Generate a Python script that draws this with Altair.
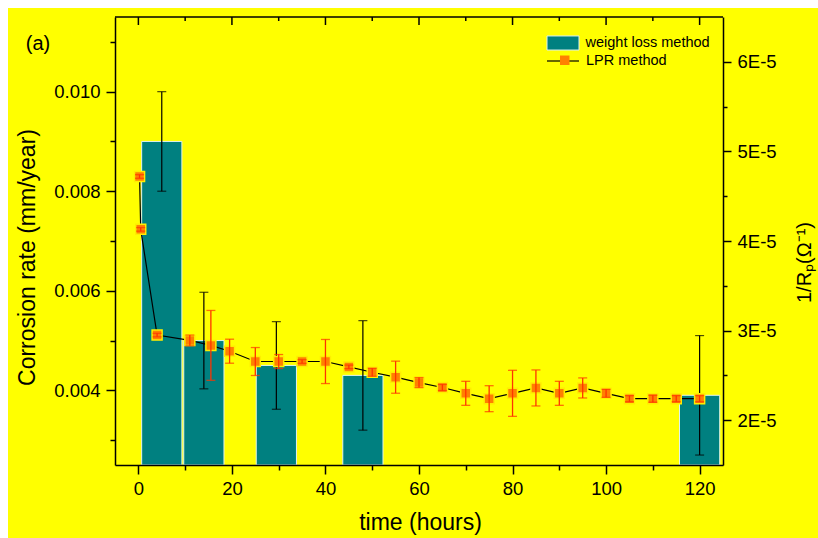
import altair as alt
import pandas as pd

# ---------------- data ----------------
# weight loss method (bars, left axis, mm/year)
bar_time = [5, 14, 29.5, 48, 120]
bar_rate = [0.0090, 0.0050, 0.0045, 0.0043, 0.0039]
bar_err = [0.0010, 0.00097, 0.00088, 0.0011, 0.0012]

# LPR method (right axis, 1/Rp in units of 1E-5 ohm^-1)
lpr_time = [0.25, 0.5, 4, 11, 15.5, 19.5, 25, 30, 35, 40, 45, 50, 55,
            60, 65, 70, 75, 80, 85, 90, 95, 100, 105, 110, 115, 120]
lpr_val = [4.72, 4.13, 2.95, 2.89, 2.835, 2.77, 2.655, 2.655, 2.655, 2.655,
           2.595, 2.535, 2.48, 2.42, 2.365, 2.30, 2.24, 2.30, 2.36, 2.30,
           2.36, 2.30, 2.24, 2.24, 2.24, 2.24]
lpr_err = [0.02, 0.02, 0.02, 0.06, 0.39, 0.134, 0.156, 0.078, 0.02, 0.246,
           0.02, 0.045, 0.179, 0.056, 0.034, 0.134, 0.145, 0.257, 0.201, 0.134,
           0.112, 0.045, 0.034, 0.039, 0.034, 0.034]

x_ticks = [0, 10, 20, 30, 40, 50, 60, 70, 80, 90, 100, 110, 120]
x_major = [0, 20, 40, 60, 80, 100, 120]
x_minor = [10, 30, 50, 70, 90, 110]
yl_ticks = [0.003, 0.004, 0.005, 0.006, 0.007, 0.008, 0.009, 0.010, 0.011]
yr_ticks = [2e-5, 2.5e-5, 3e-5, 3.5e-5, 4e-5, 4.5e-5, 5e-5, 5.5e-5, 6e-5]

bar_df = pd.DataFrame({"t": bar_time, "cr": bar_rate, "err": bar_err,
                       "m1": ["weight loss method"] * len(bar_time)})
lpr_df = pd.DataFrame({"t": lpr_time,
                       "r": [v * 1e-5 for v in lpr_val],
                       "e": [v * 1e-5 for v in lpr_err]})
lpr_df["m2"] = "LPR method"
lpr_df["m3"] = "LPR method "
top_major_df = pd.DataFrame({"v": x_major})
top_minor_df = pd.DataFrame({"v": x_minor})
one = pd.DataFrame({"a": [0]})

W, H = 608, 448
FONT = "Liberation Sans"
TEAL = "#008080"
ORANGE = "#FF8000"
ERR_RED = "#FF3300"
HALO = "#FFEE00"

# ---------------- scales / axes ----------------
xscale = alt.Scale(domain=[-5, 125], nice=False, zero=False)
xaxis = alt.Axis(
    title="time (hours)", values=x_ticks, zindex=1,
    labelExpr="datum.value % 20 == 0 ? datum.label : ''",
    tickSize={"condition": {"test": "datum.value % 20 == 0", "value": 9}, "value": 5},
    labelPadding=5, titleX=W / 2 + 1, titleY=57, titleBaseline="middle",
    titleFontSize=23,
)
ylscale = alt.Scale(domain=[0.0025, 0.0115], nice=False, zero=False)
ylaxis = alt.Axis(
    title="Corrosion rate (mm/year)", orient="left", values=yl_ticks, zindex=1,
    labelExpr="round(datum.value*1000) % 2 == 0 ? format(datum.value, '.3f') : ''",
    tickSize={"condition": {"test": "round(datum.value*1000) % 2 == 0", "value": 9}, "value": 5},
    labelPadding=6, titleAngle=270, titleX=-88, titleY=240,
    titleAlign="center", titleBaseline="middle", titleFontSize=23,
)
yrscale = alt.Scale(domain=[1.5e-5, 6.5e-5], nice=False, zero=False)
yraxis = alt.Axis(
    title="1/R\u209a(\u03a9\u207b\u00b9)", orient="right", values=yr_ticks, zindex=1,
    labelExpr="abs(datum.value*1e5 - round(datum.value*1e5)) < 0.01 ? format(round(datum.value*1e5), 'd') + 'E-5' : ''",
    tickSize={"condition": {"test": "abs(datum.value*1e5 - round(datum.value*1e5)) < 0.01", "value": 8}, "value": 4},
    labelPadding=6, titleAngle=270, titleX=81, titleY=245,
    titleAlign="center", titleBaseline="middle", titleFontSize=20,
)

# ---------------- decoration ----------------
bg = alt.Chart(one).mark_rect(color="#FFFF00").encode(
    x=alt.value(-107), x2=alt.value(W + 95), y=alt.value(-9), y2=alt.value(H + 73))
top_line = alt.Chart(one).mark_rule(color="black", strokeWidth=1.5).encode(
    x=alt.value(0), x2=alt.value(W), y=alt.value(0))
top_major = alt.Chart(top_major_df).mark_rule(color="black", strokeWidth=1.5).encode(
    x=alt.X("v:Q", scale=xscale, axis=xaxis), y=alt.value(0), y2=alt.value(8))
top_minor = alt.Chart(top_minor_df).mark_rule(color="black", strokeWidth=1.5).encode(
    x=alt.X("v:Q", scale=xscale, axis=xaxis), y=alt.value(0), y2=alt.value(4))
label_a = alt.Chart(one).mark_text(text="(a)", font=FONT, fontSize=20, color="black",
                                   align="center", baseline="middle").encode(
    x=alt.value(-77), y=alt.value(27))

# ---------------- bars (left axis) ----------------
bars = alt.Chart(bar_df).transform_calculate(
    t0="datum.t - 4.3", t1="datum.t + 4.3"
).mark_rect(stroke="#dff2ee", strokeWidth=1).encode(
    x=alt.X("t0:Q", scale=xscale, axis=xaxis), x2="t1:Q",
    y=alt.Y("cr:Q", scale=ylscale, axis=ylaxis), y2=alt.datum(0.0025),
    fill=alt.Fill("m1:N", scale=alt.Scale(domain=["weight loss method"], range=[TEAL]),
                  legend=alt.Legend(title=None, orient="none", legendX=431.5, legendY=9.5,
                                    symbolType="M-1,-0.44H1V0.44H-1Z", symbolSize=1024,
                                    symbolStrokeColor="#dff2ee", symbolStrokeWidth=1,
                                    labelFontSize=14.5, labelOffset=6, padding=0)),
)
bar_base = alt.Chart(bar_df).transform_calculate(
    lo="datum.cr - datum.err", hi="datum.cr + datum.err")
bar_rule = bar_base.mark_rule(color="black", strokeWidth=1.2).encode(
    x=alt.X("t:Q", scale=xscale, axis=xaxis),
    y=alt.Y("lo:Q", scale=ylscale, axis=ylaxis), y2="hi:Q")
bar_cap_hi = bar_base.mark_tick(orient="horizontal", color="black", size=9, thickness=1.2).encode(
    x=alt.X("t:Q", scale=xscale, axis=xaxis), y=alt.Y("hi:Q", scale=ylscale, axis=ylaxis))
bar_cap_lo = bar_base.mark_tick(orient="horizontal", color="black", size=9, thickness=1.2).encode(
    x=alt.X("t:Q", scale=xscale, axis=xaxis), y=alt.Y("lo:Q", scale=ylscale, axis=ylaxis))
left = alt.layer(bars, bar_rule, bar_cap_hi, bar_cap_lo)

# ---------------- LPR (right axis) ----------------
lpr_line = alt.Chart(lpr_df).mark_line(strokeWidth=1.2).encode(
    x=alt.X("t:Q", scale=xscale, axis=xaxis),
    y=alt.Y("r:Q", scale=yrscale, axis=yraxis),
    stroke=alt.Stroke("m2:N", scale=alt.Scale(domain=["LPR method"], range=["black"]),
                      legend=alt.Legend(title=None, orient="none", legendX=431, legendY=27,
                                        symbolType="stroke", symbolSize=1024,
                                        symbolStrokeWidth=1.2, labelFontSize=14.5,
                                        labelOffset=6, padding=0)),
)
lpr_pts = alt.Chart(lpr_df).mark_point(fill=ORANGE, fillOpacity=1, stroke=HALO,
                                       strokeWidth=1.5, size=100, opacity=1).encode(
    x=alt.X("t:Q", scale=xscale, axis=xaxis),
    y=alt.Y("r:Q", scale=yrscale, axis=yraxis),
    shape=alt.Shape("m3:N", scale=alt.Scale(domain=["LPR method "], range=["square"]),
                    legend=alt.Legend(title=None, orient="none", legendX=442.5, legendY=36,
                                      symbolSize=90, symbolFillColor=ORANGE,
                                      symbolStrokeColor=HALO, symbolStrokeWidth=1,
                                      labelExpr="''", labelFontSize=14.5, padding=0)),
)
lpr_base = alt.Chart(lpr_df).transform_calculate(
    lo="datum.r - datum.e", hi="datum.r + datum.e")
lpr_rule = lpr_base.mark_rule(color=ERR_RED, strokeWidth=1.3).encode(
    x=alt.X("t:Q", scale=xscale, axis=xaxis),
    y=alt.Y("lo:Q", scale=yrscale, axis=yraxis), y2="hi:Q")
lpr_cap_hi = lpr_base.mark_tick(orient="horizontal", color=ERR_RED, size=9, thickness=1.3).encode(
    x=alt.X("t:Q", scale=xscale, axis=xaxis), y=alt.Y("hi:Q", scale=yrscale, axis=yraxis))
lpr_cap_lo = lpr_base.mark_tick(orient="horizontal", color=ERR_RED, size=9, thickness=1.3).encode(
    x=alt.X("t:Q", scale=xscale, axis=xaxis), y=alt.Y("lo:Q", scale=yrscale, axis=yraxis))
right = alt.layer(lpr_line, lpr_pts, lpr_rule, lpr_cap_hi, lpr_cap_lo)

chart = alt.layer(bg, top_line, top_major, top_minor, label_a, left, right).resolve_scale(
    y="independent"
).properties(
    width=W, height=H,
    autosize=alt.AutoSizeParams(type="none"),
    padding={"left": 115, "top": 17, "right": 95, "bottom": 73},
).configure(
    font=FONT, background="white",
).configure_view(
    stroke="transparent",
).configure_axis(
    grid=False, domainColor="black", domainWidth=1.5, tickColor="black", tickWidth=1.5,
    labelFont=FONT, labelFontSize=18.5, labelColor="black",
    titleFont=FONT, titleFontWeight="normal", titleColor="black",
).configure_legend(
    labelFont=FONT, labelColor="black",
)

chart.save("out.html", embed_options={"renderer": "svg", "actions": False})
